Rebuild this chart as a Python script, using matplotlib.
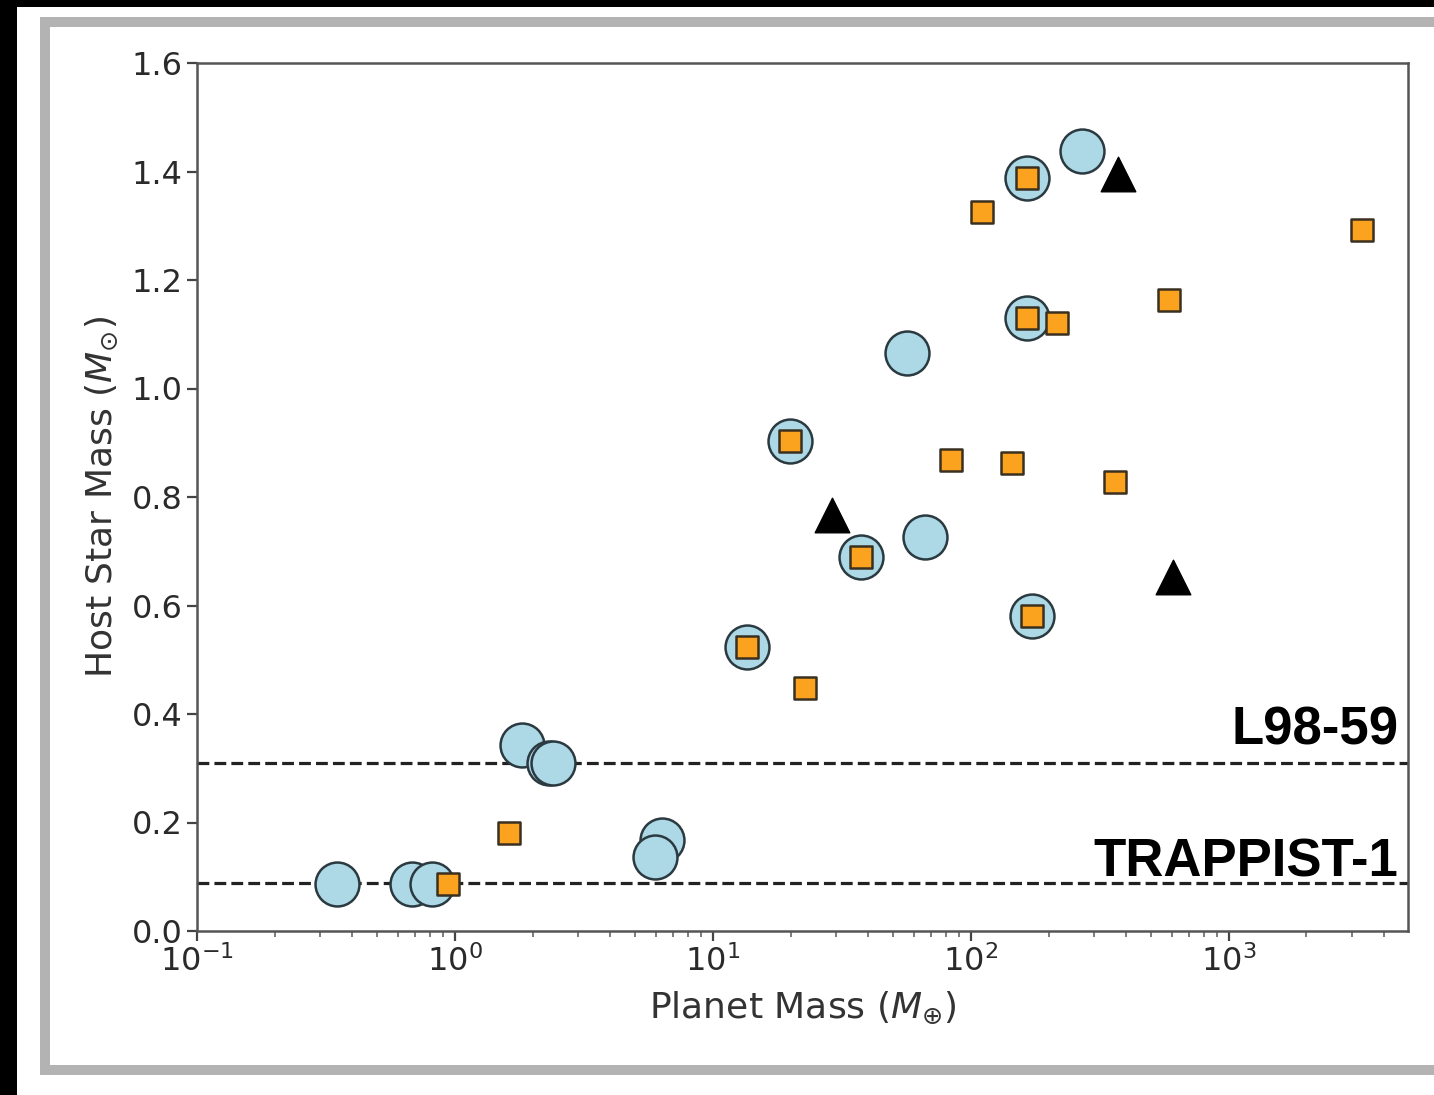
import matplotlib
matplotlib.use("Agg")
import matplotlib.pyplot as plt
from matplotlib.patches import Rectangle

# ---- data ----
circle_planet_mass = [0.35, 0.68, 0.815, 1.82, 2.31, 2.39, 6.34, 5.96, 13.5, 19.9,
                      37.5, 66.4, 56.5, 165, 165, 269, 172]
circle_star_mass = [0.087, 0.087, 0.087, 0.343, 0.31, 0.31, 0.168, 0.136, 0.5235, 0.903,
                    0.689, 0.726, 1.065, 1.13, 1.388, 1.438, 0.581]

square_planet_mass = [0.94, 1.62, 13.5, 22.7, 19.9, 37.5, 83.6, 144, 110, 165,
                      165, 215, 172, 361, 585, 3280]
square_star_mass = [0.087, 0.181, 0.5235, 0.448, 0.903, 0.689, 0.868, 0.863, 1.325, 1.388,
                    1.13, 1.121, 0.581, 0.828, 1.163, 1.292]

triangle_planet_mass = [28.9, 371, 607]
triangle_star_mass = [0.767, 1.395, 0.652]

ref_names = ["L98-59", "TRAPPIST-1"]
ref_star_mass = [0.31, 0.088]
ref_label_y = [0.343, 0.100]

W, H = 1434, 1095
fig = plt.figure(figsize=(W / 100, H / 100), dpi=100)

def px(x0, y0, x1, y1, color):
    fig.patches.append(Rectangle((x0 / W, 1 - y1 / H), (x1 - x0) / W, (y1 - y0) / H,
                                 transform=fig.transFigure, facecolor=color,
                                 edgecolor="none", zorder=0))

# outer black border and grey frame
px(0, 0, W, 7, "black")
px(0, 0, 17, H, "black")
px(40, 17, W, 27, "#b3b3b3")
px(40, 17, 50, 1075, "#b3b3b3")
px(40, 1065, W, 1075, "#b3b3b3")

ax = fig.add_axes([197 / W, 1 - 931 / H, (1408 - 197) / W, (931 - 63) / H])
ax.set_xscale("log")
ax.set_xlim(0.1, 4950)
ax.set_ylim(0, 1.6)

for yv in ref_star_mass:
    ax.axhline(yv, color="#222222", linestyle="--", linewidth=2.3, zorder=1)

ax.scatter(circle_planet_mass, circle_star_mass, s=1000, c="#add8e6",
           edgecolors="#2b3a40", linewidths=1.8, zorder=2)
ax.scatter(square_planet_mass, square_star_mass, s=250, marker="s", c="#fba31e",
           edgecolors="#3a3020", linewidths=1.8, zorder=3)
ax.scatter(triangle_planet_mass, triangle_star_mass, s=620, marker="^", c="black",
           edgecolors="black", linewidths=1.0, zorder=4)

for name, yv in zip(ref_names, ref_label_y):
    ax.text(0.992, yv, name, transform=ax.get_yaxis_transform(),
            ha="right", va="baseline", fontsize=38, fontweight="bold",
            family="Liberation Sans", color="black", zorder=5)

ax.set_xlabel(r"Planet Mass ($M_{\oplus}$)", fontsize=26, color="#333333", labelpad=8)
ax.set_ylabel(r"Host Star Mass ($M_{\odot}$)", fontsize=26, color="#333333", labelpad=8)

ax.set_yticks([0.0, 0.2, 0.4, 0.6, 0.8, 1.0, 1.2, 1.4, 1.6])
ax.tick_params(axis="both", which="major", labelsize=23, length=7, width=1.6,
               colors="#444444", labelcolor="#2a2a2a")
ax.tick_params(axis="x", which="minor", length=4, width=1.2, colors="#666666")
for sp in ax.spines.values():
    sp.set_color("#555555")
    sp.set_linewidth(1.8)

fig.savefig("out.png", dpi=100)
